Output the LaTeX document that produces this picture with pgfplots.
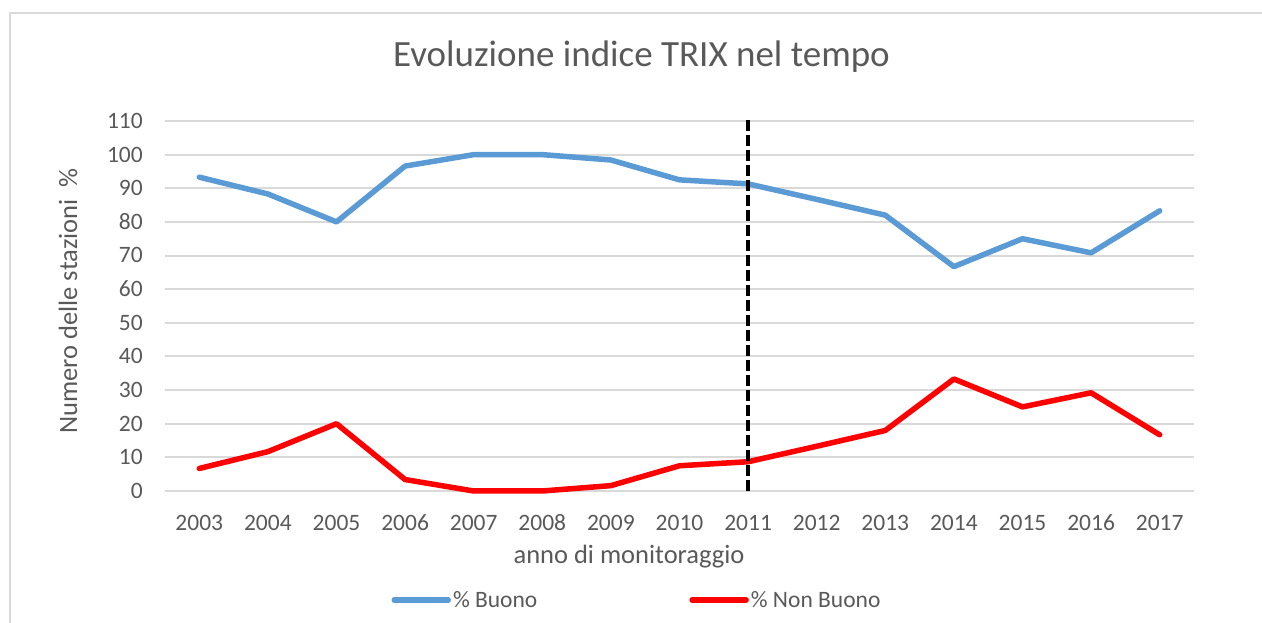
\documentclass[border=0pt]{standalone}
\usepackage{pgfplots}
\pgfplotsset{compat=1.18}
\usepackage{fontspec}
\setmainfont{Carlito}
\definecolor{buono}{HTML}{5B9BD5}
\definecolor{nonbuono}{HTML}{FF0000}
\definecolor{txt}{HTML}{595959}
\definecolor{gridc}{HTML}{D9D9D9}
\begin{document}
\begin{tikzpicture}[x=1pt,y=1pt]
\path[use as bounding box] (0,0) rectangle (1262,623);
\draw[gridc, line width=2pt] (10,0) -- (10,610) -- (1262,610);
\begin{axis}[
  at={(165pt,132pt)}, anchor=south west, scale only axis,
  width=1029pt, height=370pt,
  xmin=-0.5, xmax=14.5, ymin=0, ymax=110,
  xtick={0,...,14},
  xticklabels={2003,2004,2005,2006,2007,2008,2009,2010,2011,2012,2013,2014,2015,2016,2017},
  ytick={0,10,...,110},
  axis line style={draw=none}, major tick length=0pt,
  ymajorgrids, grid style={gridc, line width=2pt},
  tick label style={font=\fontsize{23.5}{27}\selectfont, text=txt, inner sep=0pt},
  yticklabel style={anchor=base east, xshift=-22pt, yshift=-7.4pt},
  xticklabel style={anchor=base, yshift=-39.5pt},
  /pgf/number format/assume math mode=true,
  clip=false,
  legend style={at={(0.4587,-0.2946)}, anchor=center, draw=none, fill=none,
    font=\fontsize{23.5}{27}\selectfont, text=txt, inner sep=0pt,
    /tikz/every even column/.append style={column sep=150pt}},
  legend columns=2,
  legend cell align=left,
  legend image code/.code={\draw[#1, line cap=round] (0pt,0pt) -- (54pt,0pt);},
]
\addplot[buono, line width=5.5pt, line join=round, line cap=round] coordinates {
(0,93.3) (1,88.3) (2,80.0) (3,96.6) (4,100) (5,100) (6,98.4) (7,92.5)
(8,91.3) (9,86.7) (10,82.0) (11,66.7) (12,75.0) (13,70.8) (14,83.3)};
\addlegendentry{\% Buono}
\addplot[nonbuono, line width=5.5pt, line join=round, line cap=round] coordinates {
(0,6.7) (1,11.7) (2,20.0) (3,3.4) (4,0) (5,0) (6,1.6) (7,7.5)
(8,8.7) (9,13.3) (10,18.0) (11,33.3) (12,25.0) (13,29.2) (14,16.7)};
\addlegendentry{\% Non Buono}
\addplot[black, line width=4pt, dash pattern=on 11pt off 4pt, forget plot] coordinates {(8,0) (8,111)};
\end{axis}
\node[font=\fontsize{37}{44}\selectfont, text=txt] at (641.5,566) {Evoluzione indice TRIX nel tempo};
\node[font=\fontsize{26.5}{31}\selectfont, text=txt] at (629,66) {anno di monitoraggio};
\node[rotate=90, font=\fontsize{26.5}{31}\selectfont, text=txt] at (68,322) {Numero delle stazioni \ \%};
\end{tikzpicture}
\end{document}
